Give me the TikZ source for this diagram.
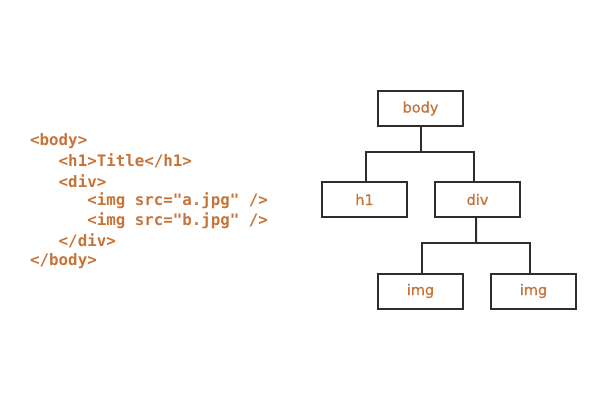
\documentclass[tikz,border=0pt]{standalone}
\usepackage{fontspec}
\setmainfont{DejaVu Sans}
\setmonofont{DejaVu Sans Mono}
\newfontfamily\treefont[FakeBold=0.7]{DejaVu Sans}
\definecolor{codeorange}{RGB}{198,116,56}
\definecolor{linegray}{RGB}{45,45,45}
\begin{document}
\begin{tikzpicture}[x=1bp,y=-1bp,
  treebox/.style={draw=linegray,line width=2bp,minimum width=85bp,minimum height=35bp,inner sep=0pt,
    text=codeorange,font=\treefont\fontsize{14.5bp}{16bp}\selectfont},
  codeline/.style={anchor=west,inner sep=0pt,text=codeorange,
    font=\ttfamily\bfseries\fontsize{15.8bp}{18bp}\selectfont},
  conn/.style={draw=linegray,line width=2bp}]
\useasboundingbox (0,0) rectangle (600,400);
% code
\node[codeline] (c1) at (30,141) {<body>};
\node[codeline] (c2) at (30,161) {\ \ \ <h1>Title</h1>};
\node[codeline] (c3) at (30,181) {\ \ \ <div>};
\node[codeline] (c4) at (30,201) {\ \ \ \ \ \ <img src="a.jpg" />};
\node[codeline] (c5) at (30,221) {\ \ \ \ \ \ <img src="b.jpg" />};
\node[codeline] (c6) at (30,241) {\ \ \ </div>};
\node[codeline] (c7) at (30,261) {</body>};
% tree
\node[treebox] (body) at (420.5,108.5) {body};
\node[treebox] (h1) at (364.5,199.5) {h1};
\node[treebox] (div) at (477.5,199.5) {div};
\node[treebox] (img1) at (420.5,291) {img};
\node[treebox] (img2) at (533.5,291) {img};
\coordinate (j1) at (420.5,152);
\coordinate (j2) at (476,243);
\draw[conn] (body.south) -- (j1);
\draw[conn] (j1) -| ([xshift=1.5bp]h1.north);
\draw[conn] (j1) -| ([xshift=-3.5bp]div.north);
\draw[conn] ([xshift=-1.5bp]div.south) -- (j2);
\draw[conn] (j2) -| ([xshift=1.5bp]img1.north);
\draw[conn] (j2) -| ([xshift=-3.5bp]img2.north);
\end{tikzpicture}
\end{document}
